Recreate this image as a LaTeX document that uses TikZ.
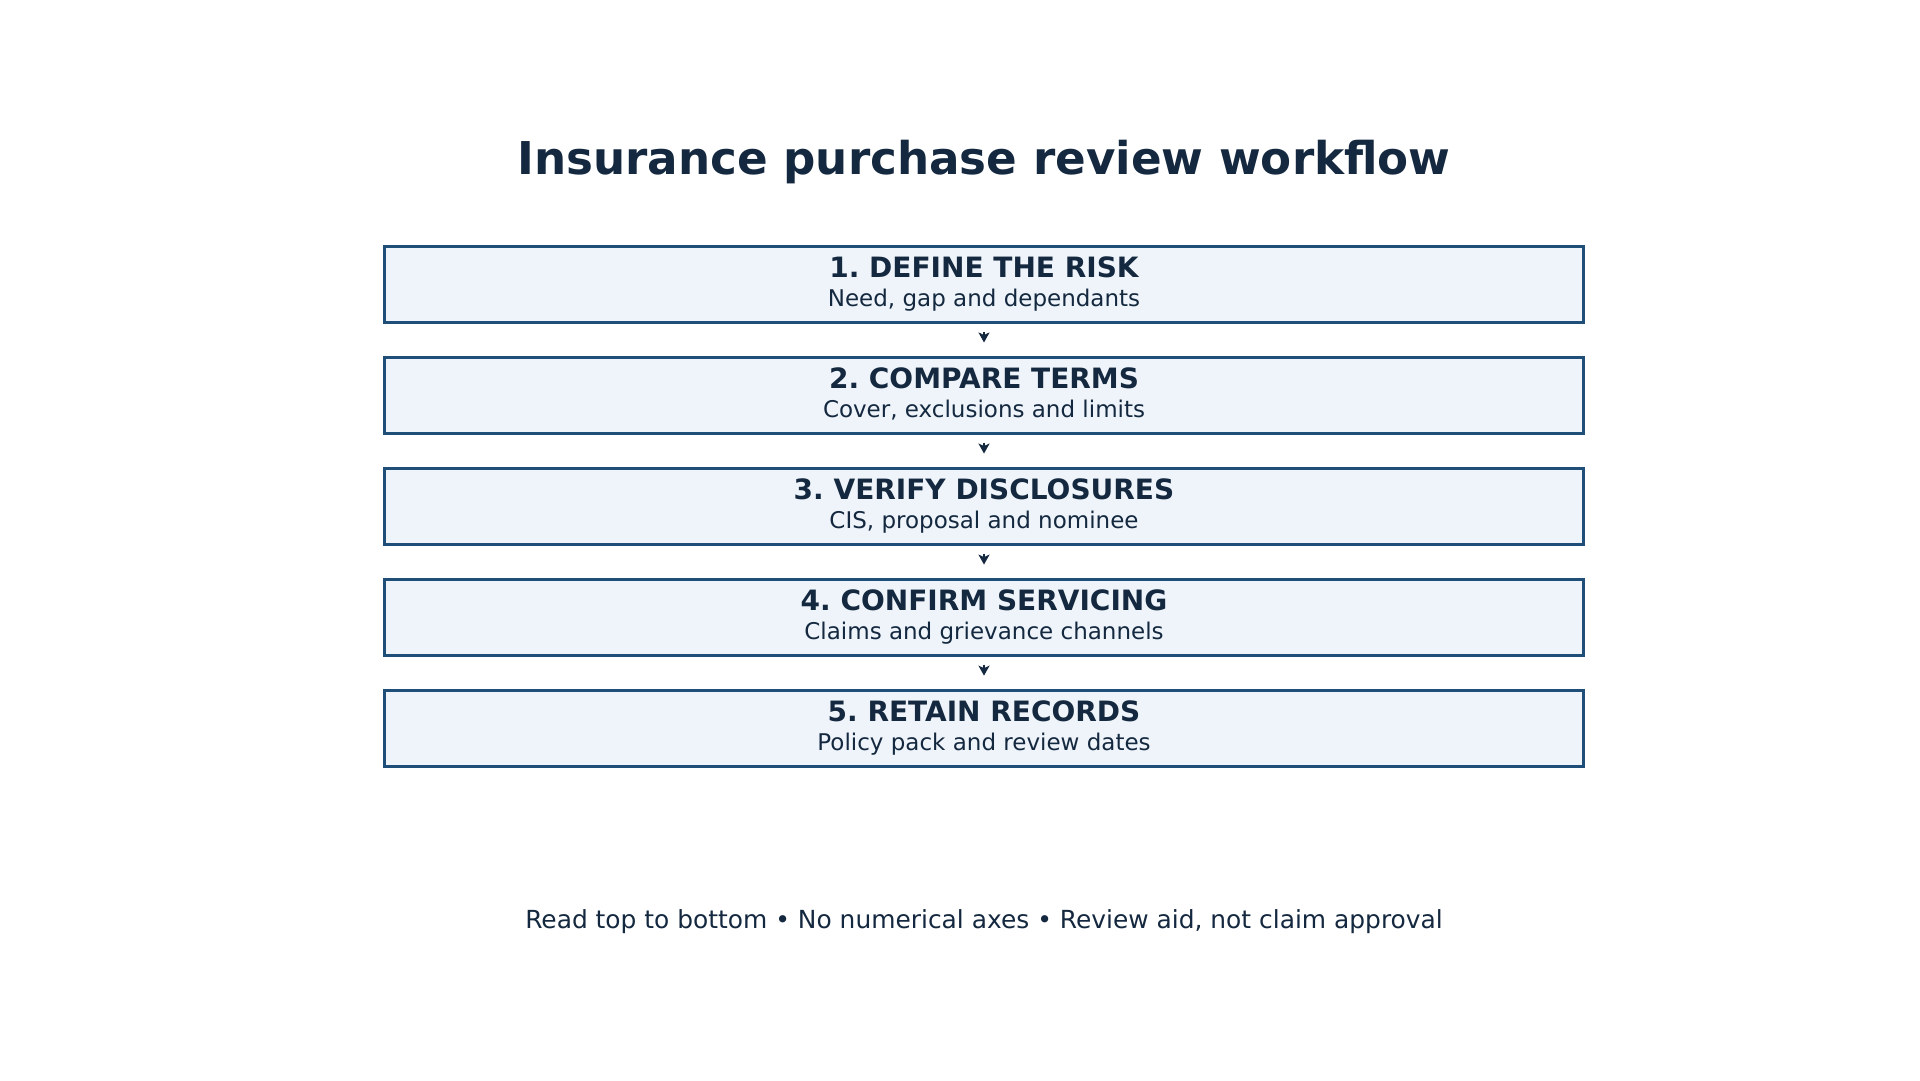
\documentclass[tikz,border=0pt]{standalone}
\usepackage{fontspec}
\setmainfont{DejaVu Sans}
\usetikzlibrary{arrows.meta,calc}
\definecolor{ink}{HTML}{14283F}
\definecolor{edge}{HTML}{1F4E79}
\definecolor{boxfill}{HTML}{EEF4FA}
\tikzset{
  stepbox/.style={draw=edge, fill=boxfill, line width=3pt, minimum width=1199pt, minimum height=76pt, inner sep=0pt},
  steptitle/.style={anchor=base, text=ink, inner sep=0pt, font=\frenchspacing\fontsize{28pt}{28pt}\selectfont\bfseries},
  stepsub/.style={anchor=base, text=ink, inner sep=0pt, font=\frenchspacing\fontsize{23pt}{23pt}\selectfont},
  flow/.style={draw=ink, line width=2.5pt, -{Stealth[length=10pt,width=11pt,inset=2.5pt]}}
}
\begin{document}
\begin{tikzpicture}[x=1pt,y=-1pt]
\useasboundingbox (0,0) rectangle (1920,1080);
\node[anchor=base, text=ink, inner sep=0pt, font=\frenchspacing\fontsize{45.2pt}{45pt}\selectfont\bfseries] (title) at (984,174) {Insurance purchase review workflow};
\foreach \i/\t/\s in {1/1. DEFINE THE RISK/{Need, gap and dependants},2/2. COMPARE TERMS/{Cover, exclusions and limits},3/3. VERIFY DISCLOSURES/{CIS, proposal and nominee},4/4. CONFIRM SERVICING/{Claims and grievance channels},5/5. RETAIN RECORDS/{Policy pack and review dates}}{
  \pgfmathsetmacro{\yy}{246.5+(\i-1)*111.05+38}
  \node[stepbox] (b\i) at (984,\yy) {};
  \node[steptitle] (t\i) at ($(b\i.north)+(0,32.5)$) {\t};
  \node[stepsub] (s\i) at ($(b\i.north)+(0,61.2)$) {\s};
}
\foreach \a/\b in {1/2,2/3,3/4,4/5}{
  \coordinate (p\a) at ($(b\a.south)+(0,7.5)$);
  \coordinate (q\a) at ($(b\a.south)+(0,18.5)$);
  \draw[flow] (p\a) -- (q\a);
}
\node[anchor=base, text=ink, inner sep=0pt, font=\frenchspacing\fontsize{24.9pt}{25pt}\selectfont] (foot) at (984,928) {Read top to bottom • No numerical axes • Review aid, not claim approval};
\end{tikzpicture}
\end{document}
